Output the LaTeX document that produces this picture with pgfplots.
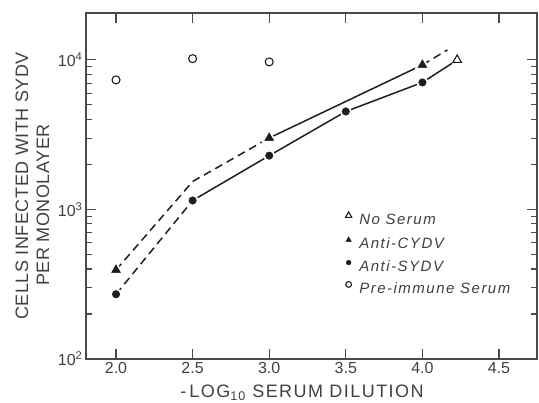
\documentclass[border=0pt]{standalone}
\usepackage{fontspec}
\setmainfont{Liberation Sans}
\usepackage{pgfplots}
\pgfplotsset{compat=1.18}
\definecolor{axisc}{HTML}{4A4A4A}
\definecolor{txt}{HTML}{404040}
\definecolor{ink}{HTML}{1E1E1E}
\begin{document}
\begin{tikzpicture}
\useasboundingbox (-86pt,-44pt) rectangle (453pt,359pt);
\begin{axis}[
  at={(0pt,0pt)}, anchor=south west,
  scale only axis, width=451pt, height=346pt,
  ymode=log,
  xmin=1.804, xmax=4.748, ymin=100, ymax=20600,
  axis line style={draw=axisc, line width=1.2pt},
  every tick/.style={draw=axisc, line width=1.1pt},
  tick align=inside, xtick pos=both, ytick pos=both,
  major tick length=10pt, minor tick length=6pt,
  xtick={2,2.5,3,3.5,4,4.5},
  xticklabels={2.0,2.5,3.0,3.5,4.0,4.5},
  ytick={100,1000,10000},
  yticklabels={10\textsuperscript{2},10\textsuperscript{3},10\textsuperscript{4}},
  tick label style={font=\fontsize{16}{16}\selectfont, text=txt},
  xlabel={-\,LOG\textsubscript{10} SERUM DILUTION},
  xlabel style={at={(axis description cs:0.479,-0.0983)}, anchor=center,
    font=\fontsize{18}{21}\selectfont\addfontfeature{LetterSpace=8}, text=txt},
  ylabel={CELLS INFECTED WITH SYDV\\PER MONOLAYER\hspace*{38pt}},
  ylabel style={at={(axis description cs:-0.1186,0.5)}, anchor=center, align=center,
    font=\fontsize{18}{21}\selectfont\addfontfeature{LetterSpace=3}, text=txt},
  legend style={draw=none, fill=none, inner sep=0pt, outer sep=0pt,
    at={(axis description cs:0.572,0.425)}, anchor=north west,
    row sep=7pt,
    nodes={inner sep=0pt, text height=11pt, text depth=3pt, text=txt,
      font=\itshape\fontsize{15}{15}\selectfont\addfontfeature{LetterSpace=10}},
    /tikz/every odd column/.append style={column sep=6pt}},
  legend cell align=left,
  legend image code/.code={\draw[#1, every mark/.append style={scale=0.72}] plot coordinates {(4pt,5pt)}; \path (0pt,0pt) (8pt,0pt);},
  filledmark/.style={only marks, mark options={fill=ink, draw=white, line width=1.5pt}},
]
% marks (legend order)
\addplot[only marks, mark=triangle, mark size=5pt, mark options={draw=ink, line width=1.1pt, fill=white}]
  coordinates {(4.227,10000)};
\addlegendentry{No Serum}
\addplot[filledmark, mark=triangle*, mark size=7.5pt]
  coordinates {(2.0,394) (3.0,3006) (4.0,9260)};
\addlegendentry{Anti-CYDV}
\addplot[filledmark, mark=*, mark size=5pt]
  coordinates {(2.0,271) (2.5,1148) (3.0,2290) (3.5,4520) (4.0,7070)};
\addlegendentry{Anti-SYDV}
\addplot[only marks, mark=o, mark size=4pt, mark options={draw=ink, line width=1.1pt, fill=white}]
  coordinates {(2.0,7350) (2.5,10200) (3.0,9700)};
\addlegendentry{Pre-immune Serum}
% fitted lines
\addplot[forget plot, draw=ink, line width=1.5pt, dash pattern=on 8pt off 5pt]
  coordinates {(2.0,394) (2.5,1537) (3.0,3006)};
\addplot[forget plot, draw=ink, line width=1.5pt]
  coordinates {(3.0,3006) (4.0,9260)};
\addplot[forget plot, draw=ink, line width=1.5pt, dash pattern=on 8pt off 5pt]
  coordinates {(4.0,9260) (4.163,11660)};
\addplot[forget plot, draw=ink, line width=1.5pt, dash pattern=on 8pt off 5pt]
  coordinates {(2.0,271) (2.5,1148)};
\addplot[forget plot, draw=ink, line width=1.5pt]
  coordinates {(2.5,1148) (3.0,2290) (3.5,4520) (4.0,7070) (4.194,9500)};
% redraw filled marks on top so the lines break around them
\addplot[forget plot, filledmark, mark=triangle*, mark size=7.5pt]
  coordinates {(2.0,394) (3.0,3006) (4.0,9260)};
\addplot[forget plot, filledmark, mark=*, mark size=5pt]
  coordinates {(2.0,271) (2.5,1148) (3.0,2290) (3.5,4520) (4.0,7070)};
\end{axis}
\end{tikzpicture}
\end{document}
